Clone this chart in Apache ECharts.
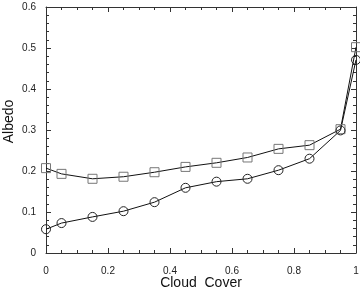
<!DOCTYPE html>
<html><head><meta charset="utf-8">
<script src="https://cdn.jsdelivr.net/npm/echarts@6/dist/echarts.min.js"></script>
<style>html,body{margin:0;padding:0;background:#fff}#c{width:360px;height:291px}</style>
</head><body><div id="c"></div>
<script>
const cloudCover = [0, 0.05, 0.15, 0.25, 0.35, 0.45, 0.55, 0.65, 0.75, 0.85, 0.95, 1.0];
const albedoSquares = [0.207, 0.193, 0.181, 0.186, 0.197, 0.210, 0.220, 0.233, 0.254, 0.263, 0.302, 0.502];
const albedoCircles = [0.058, 0.073, 0.088, 0.102, 0.124, 0.159, 0.174, 0.181, 0.202, 0.230, 0.299, 0.471];
const xTicks = [0, 0.2, 0.4, 0.6, 0.8, 1];
const yTicks = [0, 0.1, 0.2, 0.3, 0.4, 0.5, 0.6];

const font = 'Liberation Sans, Arial, sans-serif';
const axisCommon = {
  axisLine: {show: true, onZero: false, lineStyle: {color: '#333', width: 1}},
  axisTick: {show: true, inside: true, length: 5, lineStyle: {color: '#333'}},
  minorTick: {show: true, splitNumber: 4, length: 3, lineStyle: {color: '#333'}},
  splitLine: {show: false}
};
const chart = echarts.init(document.getElementById('c'), null, {renderer: 'canvas'});
chart.setOption({
  animation: false,
  grid: {left: 46, right: 4, top: 7, bottom: 38, containLabel: false, outerBoundsMode: 'none'},
  xAxis: [
    Object.assign({}, axisCommon, {
      type: 'value', min: 0, max: 1, interval: 0.2, position: 'bottom',
      name: 'Cloud  Cover', nameLocation: 'middle', nameGap: 23, nameMoveOverlap: false,
      nameTextStyle: {fontFamily: font, fontSize: 14, color: '#111'},
      axisLabel: {fontFamily: font, fontSize: 10, color: '#222', margin: 13,
        formatter: v => xTicks.includes(+v.toFixed(2)) ? String(+v.toFixed(2)) : ''}
    }),
    Object.assign({}, axisCommon, {
      type: 'value', min: 0, max: 1, interval: 0.2, position: 'top',
      axisLabel: {show: false}
    })
  ],
  yAxis: [
    Object.assign({}, axisCommon, {
      type: 'value', min: 0, max: 0.6, interval: 0.1, position: 'left',
      minorTick: {show: true, splitNumber: 5, length: 3, lineStyle: {color: '#333'}},
      name: 'Albedo', nameLocation: 'middle', nameGap: 30, nameMoveOverlap: false,
      nameTextStyle: {fontFamily: font, fontSize: 14, color: '#111', padding: [0, 0, 0, 17]},
      axisLabel: {fontFamily: font, fontSize: 10, color: '#222', margin: 10,
        formatter: v => yTicks.includes(+v.toFixed(2)) ? String(+v.toFixed(2)) : ''}
    }),
    Object.assign({}, axisCommon, {
      type: 'value', min: 0, max: 0.6, interval: 0.1, position: 'right',
      minorTick: {show: true, splitNumber: 5, length: 3, lineStyle: {color: '#333'}},
      axisLabel: {show: false}
    })
  ],
  series: [
    {
      type: 'line', xAxisIndex: 0, yAxisIndex: 0,
      data: cloudCover.map((x, i) => [x, albedoSquares[i]]),
      symbol: 'rect', symbolSize: 9, showAllSymbol: true,
      lineStyle: {color: '#111', width: 1},
      itemStyle: {color: 'transparent', borderColor: '#777', borderWidth: 1}
    },
    {
      type: 'line', xAxisIndex: 0, yAxisIndex: 0,
      data: cloudCover.map((x, i) => [x, albedoCircles[i]]),
      symbol: 'circle', symbolSize: 9, showAllSymbol: true,
      lineStyle: {color: '#111', width: 1},
      itemStyle: {color: 'transparent', borderColor: '#222', borderWidth: 1}
    }
  ]
});
</script></body></html>
